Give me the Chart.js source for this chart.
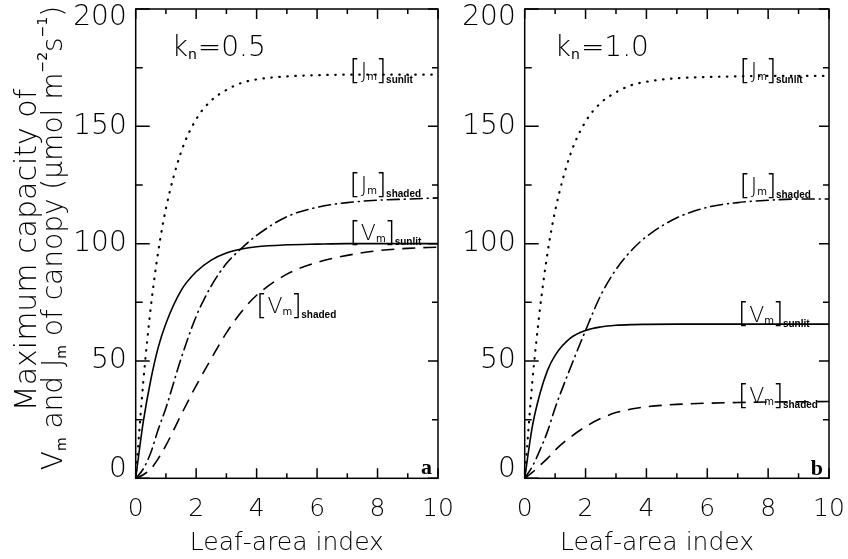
<!DOCTYPE html>
<html>
<head>
<meta charset="utf-8">
<script src="https://cdn.jsdelivr.net/npm/chart.js@4"></script>
<style>
  body { margin: 0; background: #fff; }
  #left { position: absolute; left: 0; top: 0; width: 460px; height: 559px; }
  #right { position: absolute; left: 460px; top: 0; width: 388px; height: 559px; }
</style>
</head>
<body>
<div id="left"><canvas id="chartA"></canvas></div>
<div id="right"><canvas id="chartB"></canvas></div>
<script>
// leaf-area index values used for every curve
const lai = [0, 0.25, 0.5, 0.75, 1, 1.5, 2, 2.5, 3, 3.5, 4, 5, 6, 7, 8, 9, 10];

// panel a, kn = 0.5
const jSunlitA = [0, 41, 73, 97, 115, 139, 153, 161, 165.5, 168.5, 170, 171.3, 171.8, 172, 172, 172, 172];
const jShadedA = [0, 4, 11, 21, 30, 51, 69, 82, 91.5, 98, 103.5, 111.5, 115.5, 117.5, 118.5, 119, 119.5];
const vSunlitA = [0, 24, 42, 56, 66, 80, 88, 93, 96, 97.7, 98.7, 99.5, 99.8, 100, 100, 100, 100];
const vShadedA = [0, 1.5, 4, 8.5, 14, 27, 39.5, 51, 62, 71, 78, 87, 92, 95, 97, 98, 98.5];

// panel b, kn = 1.0
const jSunlitB = [0, 41, 72, 96, 114, 138, 152, 160, 164.5, 167.5, 169, 170.5, 171, 171.3, 171.5, 171.5, 171.5];
const jShadedB = [0, 5, 12, 20, 30, 47, 63, 78, 89, 97, 103, 111, 115.5, 117.5, 118.5, 119, 119];
const vSunlitB = [0, 22, 36, 46, 52.4, 59.7, 63, 64.5, 65.2, 65.5, 65.6, 65.7, 65.7, 65.7, 65.7, 65.7, 65.7];
const vShadedB = [0, 2.5, 5.5, 8.5, 12, 17.5, 22, 25.5, 28, 29.5, 30.5, 31.5, 32, 32.3, 32.5, 32.6, 32.7];

// axis ticks
const xTicks = [0, 2, 4, 6, 8, 10];
const xMinor = [1, 3, 5, 7, 9];
const yTicks = [0, 50, 100, 150, 200];
const yMinor = [25, 75, 125, 175];

const FONT = 'DejaVu Sans';

function pts(ys) {
  return lai.map((x, i) => ({ x: x, y: ys[i] }));
}

function line(ys, dash, width, cap) {
  return {
    data: pts(ys),
    borderColor: '#000',
    borderWidth: width,
    borderDash: dash,
    borderCapStyle: cap || 'butt',
    pointRadius: 0,
    fill: false,
    cubicInterpolationMode: 'monotone'
  };
}

// text made of pieces [text, relative size, vertical shift], centred on (cx, cy)
function richText(ctx, parts, size, cx, cy, rotate) {
  ctx.save();
  ctx.translate(cx, cy);
  if (rotate) ctx.rotate(-Math.PI / 2);
  ctx.textAlign = 'left';
  ctx.textBaseline = 'middle';
  let total = 0;
  parts.forEach(p => {
    ctx.font = (p[1] < 1 ? '' : '200 ') + (size * p[1]) + 'px "' + FONT + '"';
    total += ctx.measureText(p[0]).width;
  });
  let px = -total / 2;
  parts.forEach(p => {
    ctx.font = (p[1] < 1 ? '' : '200 ') + (size * p[1]) + 'px "' + FONT + '"';
    ctx.fillText(p[0], px, p[2] * size);
    px += ctx.measureText(p[0]).width;
  });
  ctx.restore();
}

// [X_m]_sub label, bracket ink starting at (px, py)
function bracketLabel(ctx, px, py, main, sub) {
  ctx.textAlign = 'left';
  ctx.textBaseline = 'middle';
  ctx.font = '200 29px "' + FONT + '"';
  ctx.fillText('[', px - 2.5, py);
  let cx = px + 9;
  ctx.font = '200 22px "' + FONT + '"';
  ctx.fillText(main, cx, py);
  cx += ctx.measureText(main).width;
  ctx.font = '10px "' + FONT + '"';
  ctx.fillText('m', cx, py + 5);
  cx += ctx.measureText('m').width + 1;
  ctx.font = '200 29px "' + FONT + '"';
  ctx.fillText(']', cx - 2.5, py);
  cx += 8;
  ctx.font = 'bold 10px "Liberation Sans"';
  ctx.fillText(sub, cx, py + 8);
}

// frame, inward ticks on all sides, y labels and notes
function decor(notes) {
  return {
    id: 'decor',
    afterDatasetsDraw(chart) {
      const { ctx, chartArea: a, scales: { x, y } } = chart;
      ctx.save();
      ctx.strokeStyle = '#000';
      ctx.fillStyle = '#000';
      ctx.lineWidth = 1.5;
      ctx.strokeRect(a.left, a.top, a.right - a.left, a.bottom - a.top);

      ctx.beginPath();
      xTicks.forEach(v => {
        const px = x.getPixelForValue(v);
        ctx.moveTo(px, a.bottom); ctx.lineTo(px, a.bottom - 10);
        ctx.moveTo(px, a.top); ctx.lineTo(px, a.top + 10);
      });
      xMinor.forEach(v => {
        const px = x.getPixelForValue(v);
        ctx.moveTo(px, a.bottom); ctx.lineTo(px, a.bottom - 5);
        ctx.moveTo(px, a.top); ctx.lineTo(px, a.top + 5);
      });
      yTicks.forEach(v => {
        const py = y.getPixelForValue(v);
        ctx.moveTo(a.left, py); ctx.lineTo(a.left + 14, py);
        ctx.moveTo(a.right, py); ctx.lineTo(a.right - 10, py);
      });
      yMinor.forEach(v => {
        const py = y.getPixelForValue(v);
        ctx.moveTo(a.left, py); ctx.lineTo(a.left + 7, py);
        ctx.moveTo(a.right, py); ctx.lineTo(a.right - 6, py);
      });
      ctx.stroke();

      // y tick labels, end ones kept inside the frame
      ctx.font = '200 28px "' + FONT + '"';
      ctx.textAlign = 'right';
      ctx.textBaseline = 'middle';
      yTicks.forEach(v => {
        let py = y.getPixelForValue(v);
        py = Math.min(Math.max(py, a.top + 9), a.bottom - 9);
        ctx.fillText(String(v), a.left - 9, py);
      });

      // y axis title, two rotated lines
      if (notes.yTitle) {
        notes.yTitle.forEach(l => richText(ctx, l.parts, l.size, l.cx, l.cy, true));
      }

      // curve labels
      notes.curves.forEach(n => {
        bracketLabel(ctx, x.getPixelForValue(n.x), y.getPixelForValue(n.y), n.main, n.sub);
      });

      // k_n = ...
      const kx = x.getPixelForValue(notes.k.x);
      const ky = y.getPixelForValue(notes.k.y);
      ctx.textAlign = 'left';
      ctx.textBaseline = 'alphabetic';
      ctx.font = '200 28px "' + FONT + '"';
      ctx.fillText('k', kx, ky);
      let cx = kx + ctx.measureText('k').width;
      ctx.font = '14px "' + FONT + '"';
      ctx.fillText('n', cx, ky + 3);
      cx += ctx.measureText('n').width + 1;
      ctx.font = '200 28px "' + FONT + '"';
      ctx.fillText('=' + notes.k.text, cx, ky);

      // panel letter
      ctx.textAlign = 'right';
      ctx.font = 'bold 22px "Liberation Serif"';
      ctx.fillText(notes.letter.text, x.getPixelForValue(notes.letter.x), y.getPixelForValue(notes.letter.y));
      ctx.restore();
    }
  };
}

function makeChart(id, series, opts) {
  return new Chart(document.getElementById(id), {
    type: 'line',
    data: {
      datasets: [
        line(series[0], [0.5, 7.5], 2.2, 'round'),
        line(series[1], [12, 5, 1, 5], 1.6, 'round'),
        line(series[2], [], 1.6),
        line(series[3], [13, 8], 1.6)
      ]
    },
    options: {
      responsive: true,
      maintainAspectRatio: false,
      animation: false,
      layout: { padding: { top: 9, right: opts.padRight, left: 0, bottom: 0 } },
      plugins: { legend: { display: false }, tooltip: { enabled: false } },
      scales: {
        x: {
          type: 'linear',
          min: 0,
          max: 10,
          grid: { display: false, drawTicks: false },
          border: { display: false },
          afterBuildTicks: s => { s.ticks = xTicks.map(v => ({ value: v })); },
          afterFit: s => { s.height = 80.7; s.paddingLeft = 0; s.paddingRight = 0; },
          ticks: { color: '#000', font: { family: FONT, size: 25, weight: 200 }, padding: 16, maxRotation: 0, autoSkip: false },
          title: {
            display: true,
            text: opts.xTitle,
            color: '#000',
            font: { family: FONT, size: 25, weight: 200 },
            padding: { top: 0, bottom: 1 }
          }
        },
        y: {
          type: 'linear',
          min: 0,
          max: 200,
          grid: { display: false, drawTicks: false },
          border: { display: false },
          ticks: { display: false },
          afterFit: s => { s.width = opts.yWidth; s.paddingTop = 0; s.paddingBottom = 0; }
        }
      }
    },
    plugins: [decor(opts.notes)]
  });
}

makeChart('chartA', [jSunlitA, jShadedA, vSunlitA, vShadedA], {
  padRight: 22,
  yWidth: 135.7,
  xTitle: 'Leaf-area index',
  notes: {
    yTitle: [
      { cx: 28, cy: 250, size: 30, parts: [['Maximum capacity of', 1, 0]] },
      {
        cx: 55, cy: 238, size: 28,
        parts: [
          ['V', 1, 0], ['m', 0.5, 0.28], [' and J', 1, 0], ['m', 0.5, 0.28],
          [' of canopy (μmol m', 1, 0], ['−2', 0.5, -0.42], ['s', 1, 0], ['−1', 0.5, -0.42], [')', 1, 0]
        ]
      }
    ],
    curves: [
      { x: 7.15, y: 172.9, main: 'J', sub: 'sunlit' },
      { x: 7.15, y: 124.5, main: 'J', sub: 'shaded' },
      { x: 7.15, y: 103.9, main: 'V', sub: 'sunlit' },
      { x: 4.06, y: 72.8, main: 'V', sub: 'shaded' }
    ],
    k: { x: 1.19, y: 180, text: '0.5' },
    letter: { x: 9.8, y: 1.8, text: 'a' }
  }
});

makeChart('chartB', [jSunlitB, jShadedB, vSunlitB, vShadedB], {
  padRight: 19,
  yWidth: 64.7,
  xTitle: 'Leaf-area index     ',
  notes: {
    yTitle: null,
    curves: [
      { x: 7.13, y: 172.9, main: 'J', sub: 'sunlit' },
      { x: 7.13, y: 123.9, main: 'J', sub: 'shaded' },
      { x: 7.08, y: 69.2, main: 'V', sub: 'sunlit' },
      { x: 7.08, y: 34.4, main: 'V', sub: 'shaded' }
    ],
    k: { x: 0.99, y: 180, text: '1.0' },
    letter: { x: 9.8, y: 1.4, text: 'b' }
  }
});
</script>
</body>
</html>
